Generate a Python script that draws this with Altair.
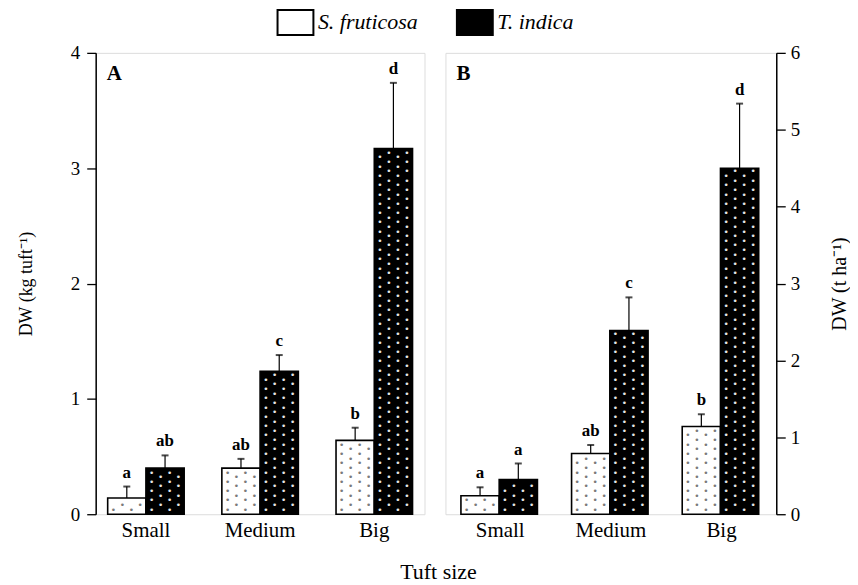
import altair as alt
import pandas as pd

# ---------------- data ----------------
groups = ["Small", "Medium", "Big"]
species = ["S. fruticosa", "T. indica"]

# Panel A: DW (kg tuft-1)
A_sf = [0.14, 0.40, 0.64]
A_sf_err = [0.10, 0.08, 0.11]
A_sf_let = ["a", "ab", "b"]
A_ti = [0.40, 1.24, 3.17]
A_ti_err = [0.11, 0.14, 0.57]
A_ti_let = ["ab", "c", "d"]

# Panel B: DW (t ha-1)
B_sf = [0.24, 0.79, 1.14]
B_sf_err = [0.11, 0.11, 0.16]
B_sf_let = ["a", "ab", "b"]
B_ti = [0.45, 2.39, 4.50]
B_ti_err = [0.21, 0.43, 0.84]
B_ti_let = ["a", "c", "d"]

FONT = "Liberation Serif"
H = 463


def table(sf, sfe, sfl, ti, tie, til):
    rows = []
    for i, g in enumerate(groups):
        rows.append(dict(group=g, species=species[0], value=sf[i], upper=sf[i] + sfe[i], letter=sfl[i]))
        rows.append(dict(group=g, species=species[1], value=ti[i], upper=ti[i] + tie[i], letter=til[i]))
    return pd.DataFrame(rows)


def dot_table(df, ymax):
    # decorative stipple texture inside each bar (derived from bar heights)
    ppu = H / ymax
    step = 9.3
    rows = []
    for _, r in df.iterrows():
        colr = "#7a7a7a" if r.species == species[0] else "#e6e6e6"
        top_px = r.value * ppu
        for ci in range(4):
            y = step * (0.5 if ci % 2 == 0 else 1.0)
            while y < top_px - 3:
                rows.append(dict(group=r.group, species=r.species, y=y / ppu, col=ci, dc=colr))
                y += step
    return pd.DataFrame(rows)


def panel(df, ymax, ytitle, orient, label, pin, pout, width, first):
    xenc = alt.X("group:N", sort=groups, title=None,
                 scale=alt.Scale(paddingInner=pin, paddingOuter=pout),
                 axis=alt.Axis(labelAngle=0, ticks=False, domain=False,
                               labelFont=FONT, labelFontSize=21, labelColor="black",
                               labelPadding=5))
    xo = alt.XOffset("species:N", sort=species)
    yscale = alt.Scale(domain=[0, ymax], nice=False, zero=True)
    yaxis = dict(orient=orient, values=list(range(ymax + 1)), format="d", grid=False,
                 tickSize=9, tickColor="black", tickWidth=1.3,
                 domainColor="black", domainWidth=1.5,
                 labelFont=FONT, labelFontSize=19, labelColor="black",
                 labelPadding=7 if orient == "left" else 5,
                 titleFont=FONT, titleFontSize=18 if orient == "left" else 20,
                 titleFontWeight="normal", titleColor="black",
                 titlePadding=35 if orient == "left" else 50)
    if orient == "right":
        yaxis["titleAngle"] = 270
    legend = None
    if first:
        legend = alt.Legend(title=None, orient="none", direction="horizontal",
                            legendX=187, legendY=-44,
                            symbolType="M-1.44,-1L1.44,-1L1.44,1L-1.44,1Z",
                            symbolSize=625, symbolStrokeColor="black",
                            symbolStrokeWidth=2, labelOffset=9,
                            labelFont=FONT, labelFontSize=22,
                            labelFontStyle="italic", labelColor="black",
                            columnPadding=34)
    base = alt.Chart(df)
    bars = base.mark_bar(stroke="black", strokeWidth=1.6).encode(
        x=xenc, xOffset=xo,
        y=alt.Y("value:Q", scale=yscale, title=ytitle, axis=alt.Axis(**yaxis)),
        fill=alt.Fill("species:N", sort=species,
                      scale=alt.Scale(domain=species, range=["white", "black"]),
                      legend=legend),
    )
    dots_df = dot_table(df, ymax)
    dot_layers = []
    offs = [-13.5, -4.5, 4.5, 13.5]
    for ci, off in enumerate(offs):
        dot_layers.append(
            alt.Chart(dots_df).transform_filter(alt.datum.col == ci)
            .mark_text(text="•", font="DejaVu Sans", fontSize=9, dx=off, baseline="middle")
            .encode(x=alt.X("group:N", sort=groups), xOffset=xo,
                    y=alt.Y("y:Q", scale=yscale),
                    color=alt.Color("dc:N", scale=None))
        )
    rule = base.mark_rule(color="black", strokeWidth=1.2).encode(
        x=alt.X("group:N", sort=groups), xOffset=xo,
        y=alt.Y("value:Q", scale=yscale), y2="upper:Q")
    cap = base.mark_tick(color="black", size=7, thickness=2).encode(
        x=alt.X("group:N", sort=groups), xOffset=xo,
        y=alt.Y("upper:Q", scale=yscale))
    txt = base.mark_text(baseline="bottom", dy=-5, font=FONT, fontSize=17,
                         fontWeight="bold", color="black").encode(
        x=alt.X("group:N", sort=groups), xOffset=xo,
        y=alt.Y("upper:Q", scale=yscale), text="letter:N")
    plabel = alt.Chart(pd.DataFrame({"t": [label]})).mark_text(
        align="left", baseline="top", font=FONT, fontSize=21, fontWeight="bold",
        color="black").encode(text="t:N", x=alt.value(11), y=alt.value(10))
    return alt.layer(bars, *dot_layers, rule, cap, txt, plabel).properties(
        width=width, height=H)


dfA = table(A_sf, A_sf_err, A_sf_let, A_ti, A_ti_err, A_ti_let)
dfB = table(B_sf, B_sf_err, B_sf_let, B_ti, B_ti_err, B_ti_let)

pA = panel(dfA, 4, "DW (kg tuft⁻¹)", "left", "A", 0.33, 0.105, 330, True)
pB = panel(dfB, 6, "DW (t ha⁻¹)", "right", "B", 0.29, 0.14, 332, False)

chart = alt.hconcat(pA, pB, spacing=19).resolve_scale(y="independent").properties(
    title=alt.TitleParams(text="Tuft size", orient="bottom", anchor="middle",
                          font=FONT, fontSize=22, fontWeight="normal", color="black",
                          offset=22, dx=5),
    padding={"left": 9, "top": 0, "right": 0, "bottom": 0},
).configure_view(stroke="black", strokeWidth=1.5).configure(background="white")

chart.save("out.html", embed_options={"renderer": "svg", "actions": False})
